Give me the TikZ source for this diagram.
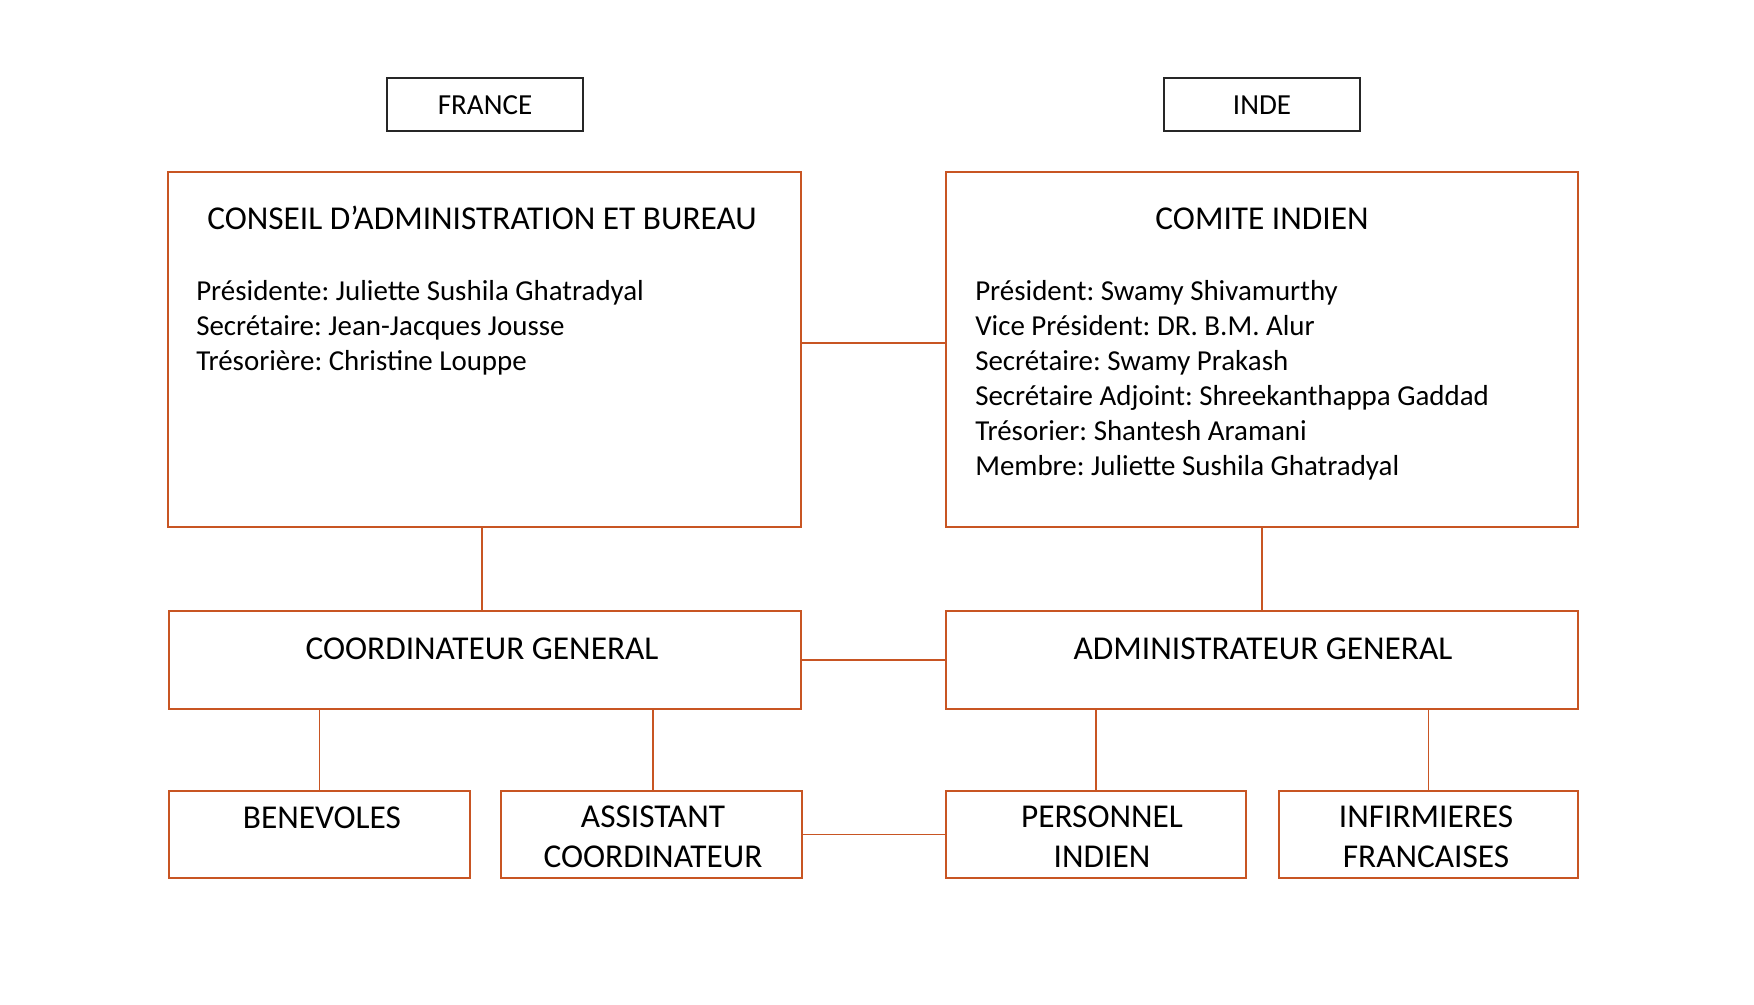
\documentclass[tikz,border=0pt]{standalone}
\usepackage{fontspec}
\setmainfont{Carlito}
\frenchspacing
\definecolor{org}{RGB}{200,85,35}
\tikzset{
  obox/.style={draw=org, line width=1.2pt, fill=white, inner sep=0pt},
  kbox/.style={draw=black!85, line width=1.4pt, inner sep=0pt},
  conn/.style={draw=org, line width=1.4pt},
  ttl/.style={inner sep=0pt, anchor=base, font=\fontsize{25}{31}\selectfont},
  bod/.style={inner sep=0pt, anchor=base west, font=\fontsize{21.7}{26}\selectfont},
  two/.style={inner sep=0pt, align=center, font=\fontsize{25}{30}\selectfont, anchor=north},
}
\begin{document}
\begin{tikzpicture}[x=0.75pt,y=-0.75pt]
\useasboundingbox (0,0) rectangle (1754,1004);
% header boxes
\node[kbox, minimum width=147pt, minimum height=39.75pt] (fr) at (485,104.5) {};
\node[kbox, minimum width=147pt, minimum height=39.75pt] (in) at (1262,104.5) {};
\node[ttl, font=\fontsize{21.8}{26}\selectfont] (frt) at (485,114.5) {FRANCE};
\node[ttl, font=\fontsize{21.8}{26}\selectfont] (int) at (1262,114.5) {INDE};
% big boxes
\node[obox, minimum width=474.75pt, minimum height=266.25pt] (ca) at (484.5,349.5) {};
\node[obox, minimum width=474pt, minimum height=266.25pt] (ci) at (1262,349.5) {};
\node[ttl] (cat) at (482,229) {CONSEIL D’ADMINISTRATION ET BUREAU};
\node[ttl] (cit) at (1262,229) {COMITE INDIEN};
\node[bod] (ca1) at (196,300) {Présidente: Juliette Sushila Ghatradyal};
\node[bod] (ca2) at (196,335) {Secrétaire: Jean-Jacques Jousse};
\node[bod] (ca3) at (196,370) {Trésorière: Christine Louppe};
\node[bod] (ci1) at (975,300) {Président: Swamy Shivamurthy};
\node[bod] (ci2) at (975,335) {Vice Président: DR. B.M. Alur};
\node[bod] (ci3) at (975,370) {Secrétaire: Swamy Prakash};
\node[bod] (ci4) at (975,405) {Secrétaire Adjoint: Shreekanthappa Gaddad};
\node[bod] (ci5) at (975,440) {Trésorier: Shantesh Aramani};
\node[bod] (ci6) at (975,475) {Membre: Juliette Sushila Ghatradyal};
% middle boxes
\node[obox, minimum width=474pt, minimum height=73.5pt] (cg) at (485,660) {};
\node[obox, minimum width=474pt, minimum height=73.5pt] (ag) at (1262,660) {};
\node[ttl] (cgt) at (482,659) {COORDINATEUR GENERAL};
\node[ttl] (agt) at (1263,659) {ADMINISTRATEUR GENERAL};
% bottom boxes
\node[obox, minimum width=225.75pt, minimum height=65.25pt] (be) at (319.5,834.5) {};
\node[obox, minimum width=225.75pt, minimum height=65.25pt] (as) at (651.5,834.5) {};
\node[obox, minimum width=225pt, minimum height=65.25pt] (pe) at (1096,834.5) {};
\node[obox, minimum width=224.25pt, minimum height=65.25pt] (inf) at (1428.5,834.5) {};
\node[ttl] (bet) at (322,828) {BENEVOLES};
\node[two] (ast) at (653,806) {ASSISTANT\\COORDINATEUR};
\node[two] (pet) at (1102,806) {PERSONNEL\\INDIEN};
\node[two] (inft) at (1426,806) {INFIRMIERES\\FRANCAISES};
% connectors
\coordinate (hy) at (0,343);
\coordinate (vx) at (653,0);
\draw[conn] (ca.east |- hy) -- (ci.west |- hy);
\draw[conn] (cg.east) -- (ag.west);
\draw[conn] (as.east) -- (pe.west);
\draw[conn] (cg.north -| cat) -- (ca.south -| cat);
\draw[conn] (ag.north) -- (ci.south);
\draw[conn] (be.north) -- (be.north |- cg.south);
\draw[conn] (as.north -| vx) -- (vx |- cg.south);
\draw[conn] (pe.north) -- (pe.north |- ag.south);
\draw[conn] (inf.north) -- (inf.north |- ag.south);
\end{tikzpicture}
\end{document}
